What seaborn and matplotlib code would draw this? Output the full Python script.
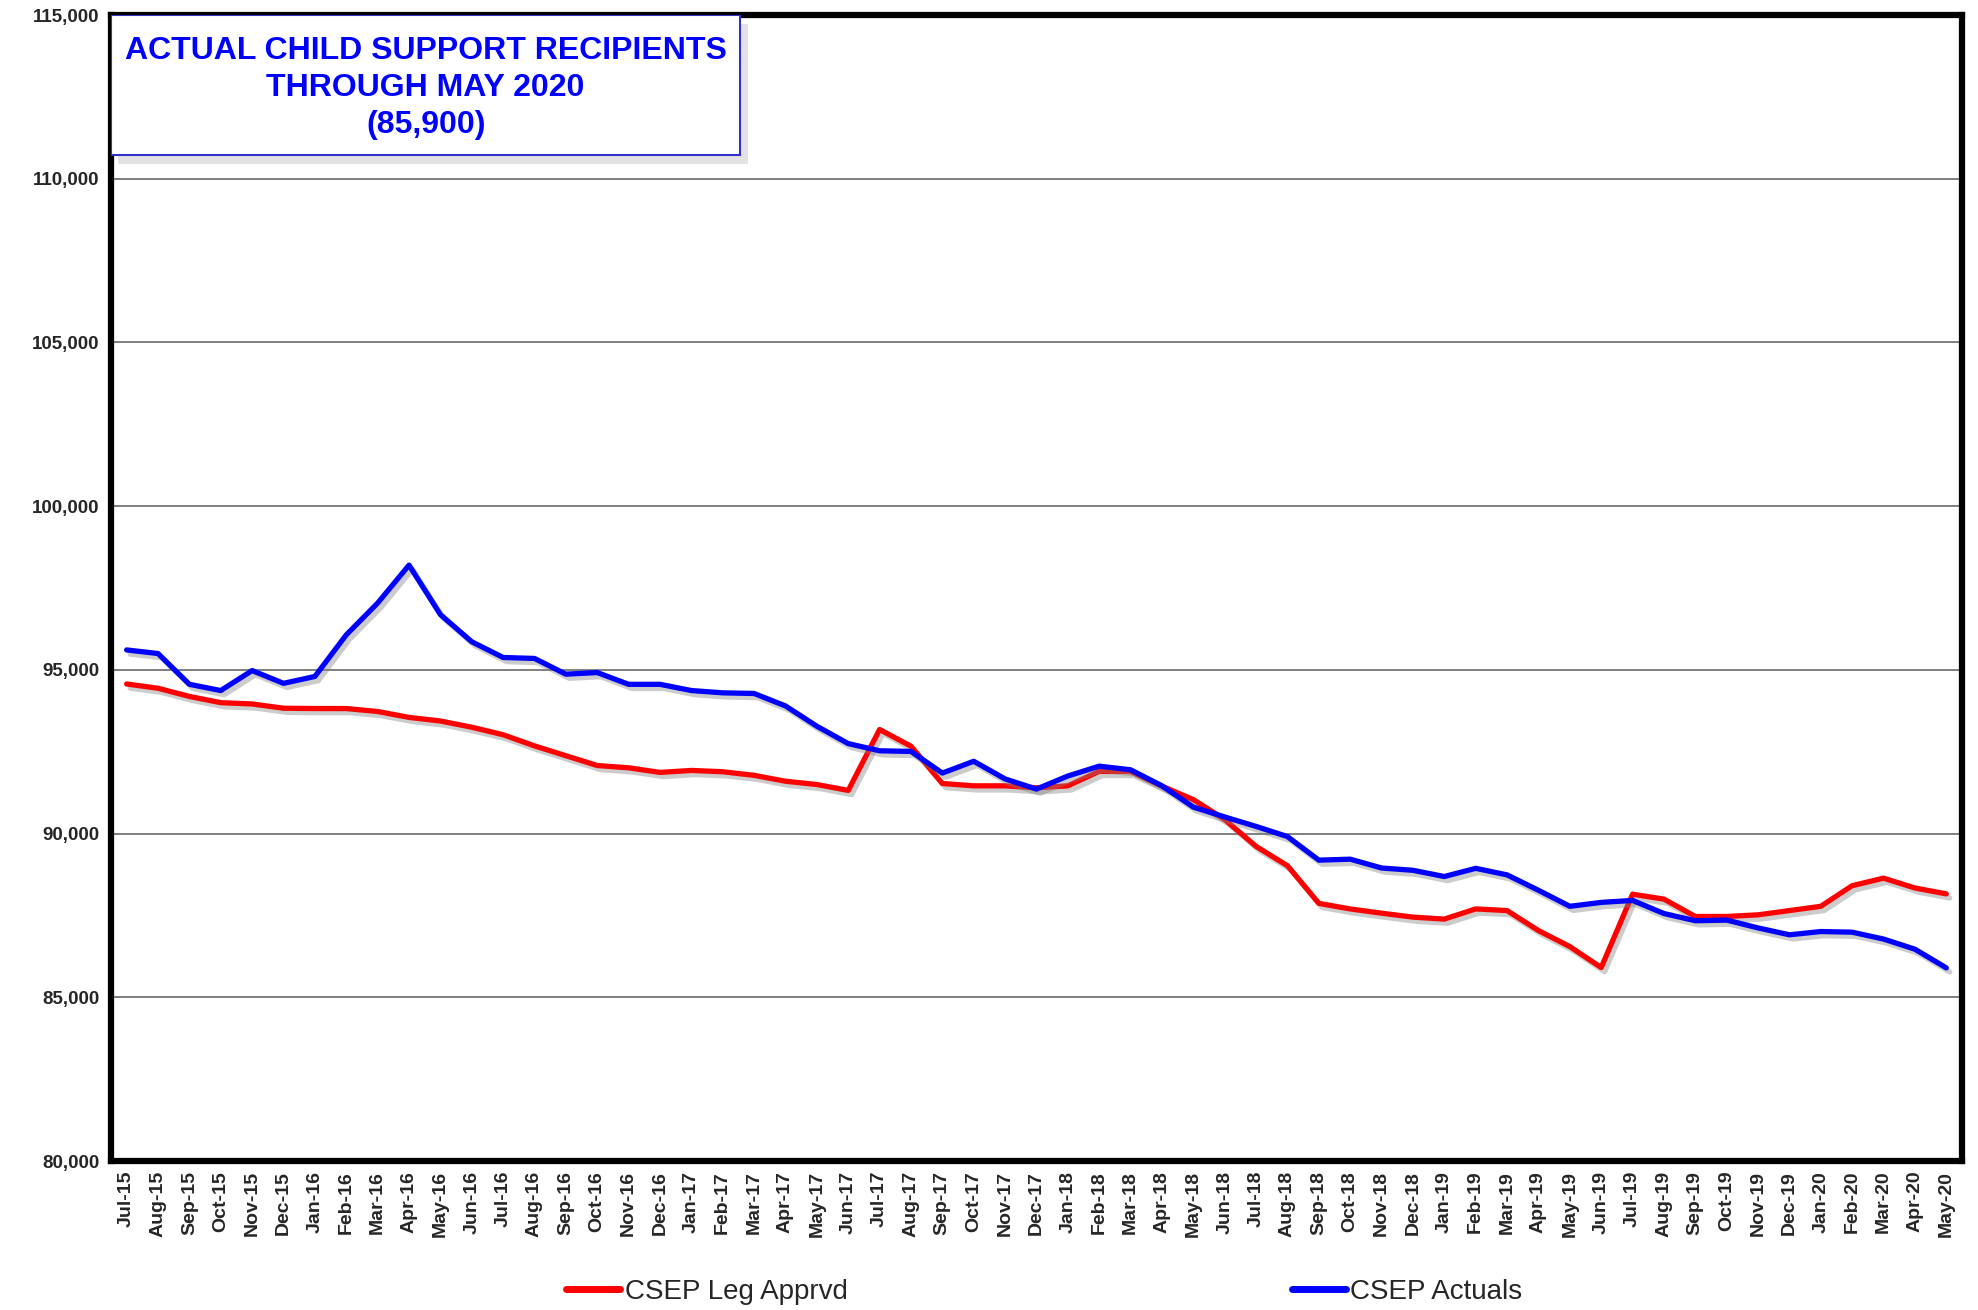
import pandas as pd
import matplotlib.pyplot as plt
import matplotlib.patheffects as pe
from matplotlib.patches import Rectangle
import seaborn as sns

# Month labels on the x axis
months = [
    "Jul-15", "Aug-15", "Sep-15", "Oct-15", "Nov-15", "Dec-15",
    "Jan-16", "Feb-16", "Mar-16", "Apr-16", "May-16", "Jun-16",
    "Jul-16", "Aug-16", "Sep-16", "Oct-16", "Nov-16", "Dec-16",
    "Jan-17", "Feb-17", "Mar-17", "Apr-17", "May-17", "Jun-17",
    "Jul-17", "Aug-17", "Sep-17", "Oct-17", "Nov-17", "Dec-17",
    "Jan-18", "Feb-18", "Mar-18", "Apr-18", "May-18", "Jun-18",
    "Jul-18", "Aug-18", "Sep-18", "Oct-18", "Nov-18", "Dec-18",
    "Jan-19", "Feb-19", "Mar-19", "Apr-19", "May-19", "Jun-19",
    "Jul-19", "Aug-19", "Sep-19", "Oct-19", "Nov-19", "Dec-19",
    "Jan-20", "Feb-20", "Mar-20", "Apr-20", "May-20",
]

# CSEP Leg Apprvd (red)
leg_apprvd = [
    94570, 94440, 94190, 94000, 93960, 93830,
    93820, 93820, 93730, 93550, 93440, 93250,
    93020, 92680, 92380, 92080, 92010, 91870,
    91930, 91890, 91780, 91600, 91500, 91320,
    93180, 92670, 91530, 91460, 91460, 91400,
    91460, 91900, 91900, 91450, 91040, 90430,
    89610, 89020, 87870, 87700, 87570, 87450,
    87390, 87700, 87650, 87040, 86550, 85910,
    88150, 88000, 87470, 87470, 87520, 87650,
    87780, 88410, 88640, 88340, 88160,
]

# CSEP Actuals (blue)
actuals = [
    95610, 95500, 94560, 94370, 94980, 94590,
    94800, 96070, 97040, 98200, 96690, 95860,
    95380, 95350, 94870, 94920, 94560, 94560,
    94370, 94300, 94280, 93900, 93280, 92750,
    92530, 92510, 91850, 92210, 91670, 91360,
    91760, 92060, 91950, 91460, 90810, 90510,
    90220, 89910, 89190, 89220, 88950, 88880,
    88690, 88940, 88740, 88270, 87780, 87900,
    87960, 87560, 87340, 87360, 87120, 86910,
    87010, 86990, 86780, 86470, 85900,
]

series_names = ["CSEP Leg Apprvd", "CSEP Actuals"]
series_colors = ["#FF0000", "#0000FF"]
title_lines = ["ACTUAL CHILD SUPPORT RECIPIENTS", "THROUGH MAY 2020", "(85,900)"]

# Long-form table for seaborn
idx = list(range(len(months)))
df = pd.concat([
    pd.DataFrame({"pos": idx, "value": leg_apprvd, "series": series_names[0]}),
    pd.DataFrame({"pos": idx, "value": actuals, "series": series_names[1]}),
])

sns.set_style("white")
plt.rcParams["font.family"] = ["Liberation Sans", "DejaVu Sans"]

fig = plt.figure(figsize=(19.78, 13.10), dpi=100)
ax = fig.add_axes([0.0561, 0.1137, 0.9358, 0.8748])

sns.lineplot(data=df, x="pos", y="value", hue="series", hue_order=series_names,
             palette=series_colors, linewidth=3.8, ax=ax, legend=True)

for line in ax.get_lines():
    line.set_path_effects([pe.SimpleLineShadow(offset=(2.5, -3), shadow_color="#808080", alpha=0.4),
                           pe.Normal()])

ax.set_xlim(-0.5, len(months) - 0.5)
ax.set_ylim(80000, 115000)
ax.set_yticks(range(80000, 115001, 5000))
ax.set_yticklabels([f"{v:,}" for v in range(80000, 115001, 5000)],
                   fontsize=13.5, fontweight="bold")
ax.set_xticks(idx)
ax.set_xticklabels(months, rotation=90, fontsize=14, fontweight="bold")
ax.set_xticks([i - 0.5 for i in range(len(months) + 1)], minor=True)
ax.tick_params(axis="x", which="major", length=0, pad=7)
ax.tick_params(axis="x", which="minor", length=5, width=1, color="#808080", direction="out")
ax.tick_params(axis="y", length=5, width=1, color="#808080", direction="out", pad=3)
ax.set_xlabel("")
ax.set_ylabel("")

ax.yaxis.grid(True, color="#7f7f7f", linewidth=1.4)
ax.xaxis.grid(False)
ax.set_axisbelow(True)
for s in ax.spines.values():
    s.set_visible(True)
    s.set_color("black")
    s.set_linewidth(4.5)

# Title box with soft shadow
shadow = Rectangle((0.004, 0.870), 0.34, 0.122, transform=ax.transAxes,
                   facecolor="#c8c8c8", edgecolor="none", alpha=0.5, zorder=4)
ax.add_patch(shadow)
box = Rectangle((0.0, 0.878), 0.34, 0.122, transform=ax.transAxes,
                facecolor="white", edgecolor="#3232c8", linewidth=1.5, zorder=5)
ax.add_patch(box)
ax.text(0.17, 0.9365, "\n".join(title_lines), transform=ax.transAxes,
        ha="center", va="center", fontsize=23, fontweight="bold",
        color="#0000FF", linespacing=1.3, zorder=6)

# Legend below the plot
handles, labels = ax.get_legend_handles_labels()
ax.get_legend().remove()
for h in handles:
    h.set_linewidth(5)
    h.set_path_effects([])
fig.legend(handles, labels, loc="center", bbox_to_anchor=(0.528, 0.0137), ncol=2,
           frameon=False, fontsize=20, handlelength=1.95, handletextpad=0.15,
           columnspacing=16, borderaxespad=0)

fig.savefig("out.png", dpi=100)
